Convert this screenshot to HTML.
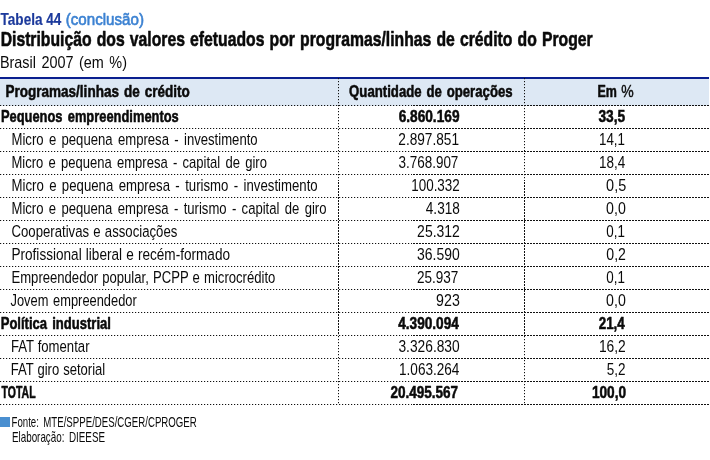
<!DOCTYPE html>
<html lang="pt-BR"><head><meta charset="utf-8"><title>Tabela 44</title>
<style>
html,body{margin:0;padding:0;background:#fff;}
svg{display:block;font-family:"Liberation Sans",sans-serif;}
text{white-space:pre;}
</style></head><body>
<svg width="710" height="460" viewBox="0 0 710 460">
<defs>
<pattern id="dh" x="0" y="0" width="3" height="1" patternUnits="userSpaceOnUse"><rect x="0" y="0" width="1.2" height="1" fill="#111"/></pattern>
<pattern id="dh2" x="2" y="0" width="3" height="1" patternUnits="userSpaceOnUse"><rect x="0" y="0" width="2" height="1" fill="#111"/></pattern>
<pattern id="dv" x="0" y="0" width="1" height="3" patternUnits="userSpaceOnUse"><rect x="0" y="0" width="1" height="1.2" fill="#111"/></pattern>
<pattern id="dv2" x="0" y="2" width="1" height="3" patternUnits="userSpaceOnUse"><rect x="0" y="0" width="1" height="2" fill="#111"/></pattern>
</defs>
<rect width="710" height="460" fill="#fff"/>
<rect x="0" y="79" width="709" height="27" fill="#dde8f4"/>
<rect x="0" y="77" width="709" height="2" fill="#0a1f8f"/>
<rect x="0" y="105" width="411" height="1" fill="url(#dh)"/>
<rect x="411" y="105" width="298" height="1" fill="url(#dh2)"/>
<rect x="0" y="128" width="411" height="1" fill="url(#dh)"/>
<rect x="411" y="128" width="298" height="1" fill="url(#dh2)"/>
<rect x="0" y="151" width="411" height="1" fill="url(#dh)"/>
<rect x="411" y="151" width="298" height="1" fill="url(#dh2)"/>
<rect x="0" y="174" width="411" height="1" fill="url(#dh)"/>
<rect x="411" y="174" width="298" height="1" fill="url(#dh2)"/>
<rect x="0" y="197" width="411" height="1" fill="url(#dh)"/>
<rect x="411" y="197" width="298" height="1" fill="url(#dh2)"/>
<rect x="0" y="220" width="411" height="1" fill="url(#dh)"/>
<rect x="411" y="220" width="298" height="1" fill="url(#dh2)"/>
<rect x="0" y="243" width="411" height="1" fill="url(#dh)"/>
<rect x="411" y="243" width="298" height="1" fill="url(#dh2)"/>
<rect x="0" y="266" width="411" height="1" fill="url(#dh)"/>
<rect x="411" y="266" width="298" height="1" fill="url(#dh2)"/>
<rect x="0" y="289" width="411" height="1" fill="url(#dh)"/>
<rect x="411" y="289" width="298" height="1" fill="url(#dh2)"/>
<rect x="0" y="312" width="411" height="1" fill="url(#dh)"/>
<rect x="411" y="312" width="298" height="1" fill="url(#dh2)"/>
<rect x="0" y="335" width="411" height="1" fill="url(#dh)"/>
<rect x="411" y="335" width="298" height="1" fill="url(#dh2)"/>
<rect x="0" y="358" width="411" height="1" fill="url(#dh)"/>
<rect x="411" y="358" width="298" height="1" fill="url(#dh2)"/>
<rect x="0" y="381" width="411" height="1" fill="url(#dh)"/>
<rect x="411" y="381" width="298" height="1" fill="url(#dh2)"/>
<rect x="0" y="404" width="411" height="1" fill="url(#dh)"/>
<rect x="411" y="404" width="298" height="1" fill="url(#dh2)"/>
<rect x="338" y="78" width="1" height="103" fill="url(#dv)"/>
<rect x="338" y="181" width="1" height="153" fill="url(#dv2)"/>
<rect x="338" y="334" width="1" height="71" fill="url(#dv)"/>
<rect x="524" y="78" width="1" height="103" fill="url(#dv)"/>
<rect x="524" y="181" width="1" height="153" fill="url(#dv2)"/>
<rect x="524" y="334" width="1" height="71" fill="url(#dv)"/>
<rect x="0" y="417" width="10" height="10" fill="#4a8fd0"/>
<g>
<text id="t1a" transform="translate(0.56 24.60) scale(0.8217 1)" font-size="16.5" font-weight="700" fill="#1c3a9c" stroke="#1c3a9c" stroke-width="0.15" vector-effect="non-scaling-stroke" stroke-linejoin="round">Tabela 44</text>
<text id="t1b" transform="translate(65.71 24.60) scale(0.9180 1)" font-size="16.5" font-weight="400" fill="#3c82d2" stroke="#3c82d2" stroke-width="0.6" vector-effect="non-scaling-stroke" stroke-linejoin="round">(conclusão)</text>
<text id="t2" transform="translate(0.65 46.30) scale(0.7873 1)" font-size="20" font-weight="700" fill="#0a0a0a" stroke="#0a0a0a" stroke-width="0.5" vector-effect="non-scaling-stroke" stroke-linejoin="round" word-spacing="1">Distribuição dos valores efetuados por programas/linhas de crédito do Proger</text>
<text id="t3" transform="translate(-0.11 68.30) scale(0.8479 1)" font-size="17" font-weight="400" fill="#0a0a0a" word-spacing="1.8">Brasil 2007 (em %)</text>
<text id="h1" transform="translate(5.44 97.40) scale(0.7958 1)" font-size="17" font-weight="700" fill="#0a0a0a" stroke="#0a0a0a" stroke-width="0.5" vector-effect="non-scaling-stroke" stroke-linejoin="round" word-spacing="1.5">Programas/linhas de crédito</text>
<text id="h2" transform="translate(349.10 97.40) scale(0.7762 1)" font-size="17" font-weight="700" fill="#0a0a0a" stroke="#0a0a0a" stroke-width="0.5" vector-effect="non-scaling-stroke" stroke-linejoin="round" word-spacing="1.5">Quantidade de operações</text>
<text id="h3a" transform="translate(597.51 97.40) scale(0.7337 1)" font-size="17" font-weight="700" fill="#0a0a0a" stroke="#0a0a0a" stroke-width="0.5" vector-effect="non-scaling-stroke" stroke-linejoin="round">Em</text>
<text id="h3b" transform="translate(621.37 97.40) scale(0.8239 1)" font-size="17" font-weight="400" fill="#0a0a0a" stroke="#0a0a0a" stroke-width="0.4" vector-effect="non-scaling-stroke" stroke-linejoin="round">%</text>
<text id="r0a" transform="translate(0.89 122.40) scale(0.7589 1)" font-size="17" font-weight="700" fill="#0a0a0a" stroke="#0a0a0a" stroke-width="0.5" vector-effect="non-scaling-stroke" stroke-linejoin="round" word-spacing="2.2">Pequenos empreendimentos</text>
<text id="r0b" transform="translate(398.64 122.40) scale(0.8054 1)" font-size="17" font-weight="700" fill="#0a0a0a" stroke="#0a0a0a" stroke-width="0.5" vector-effect="non-scaling-stroke" stroke-linejoin="round">6.860.169</text>
<text id="r0c" transform="translate(598.40 122.40) scale(0.8081 1)" font-size="17" font-weight="700" fill="#0a0a0a" stroke="#0a0a0a" stroke-width="0.5" vector-effect="non-scaling-stroke" stroke-linejoin="round">33,5</text>
<text id="r1a" transform="translate(11.49 145.40) scale(0.7722 1)" font-size="17" font-weight="400" fill="#0a0a0a" word-spacing="2.2">Micro e pequena empresa - investimento</text>
<text id="r1b" transform="translate(398.30 145.40) scale(0.8037 1)" font-size="17" font-weight="400" fill="#0a0a0a">2.897.851</text>
<text id="r1c" transform="translate(598.96 145.40) scale(0.7874 1)" font-size="17" font-weight="400" fill="#0a0a0a">14,1</text>
<text id="r2a" transform="translate(11.49 168.40) scale(0.7659 1)" font-size="17" font-weight="400" fill="#0a0a0a" word-spacing="2.2">Micro e pequena empresa - capital de giro</text>
<text id="r2b" transform="translate(398.41 168.40) scale(0.7938 1)" font-size="17" font-weight="400" fill="#0a0a0a">3.768.907</text>
<text id="r2c" transform="translate(598.98 168.40) scale(0.7939 1)" font-size="17" font-weight="400" fill="#0a0a0a">18,4</text>
<text id="r3a" transform="translate(11.48 191.40) scale(0.7768 1)" font-size="17" font-weight="400" fill="#0a0a0a" word-spacing="2.2">Micro e pequena empresa - turismo - investimento</text>
<text id="r3b" transform="translate(411.26 191.40) scale(0.7900 1)" font-size="17" font-weight="400" fill="#0a0a0a">100.332</text>
<text id="r3c" transform="translate(606.09 191.40) scale(0.8509 1)" font-size="17" font-weight="400" fill="#0a0a0a">0,5</text>
<text id="r4a" transform="translate(11.49 214.40) scale(0.7711 1)" font-size="17" font-weight="400" fill="#0a0a0a" word-spacing="2.2">Micro e pequena empresa - turismo - capital de giro</text>
<text id="r4b" transform="translate(425.80 214.40) scale(0.8011 1)" font-size="17" font-weight="400" fill="#0a0a0a">4.318</text>
<text id="r4c" transform="translate(606.10 214.40) scale(0.8343 1)" font-size="17" font-weight="400" fill="#0a0a0a">0,0</text>
<text id="r5a" transform="translate(11.48 237.40) scale(0.7755 1)" font-size="17" font-weight="400" fill="#0a0a0a" word-spacing="0.7">Cooperativas e associações</text>
<text id="r5b" transform="translate(417.12 237.40) scale(0.8232 1)" font-size="17" font-weight="400" fill="#0a0a0a">25.312</text>
<text id="r5c" transform="translate(606.26 237.40) scale(0.7886 1)" font-size="17" font-weight="400" fill="#0a0a0a">0,1</text>
<text id="r6a" transform="translate(11.47 260.40) scale(0.7996 1)" font-size="17" font-weight="400" fill="#0a0a0a" word-spacing="0.5">Profissional liberal e recém-formado</text>
<text id="r6b" transform="translate(416.98 260.40) scale(0.8218 1)" font-size="17" font-weight="400" fill="#0a0a0a">36.590</text>
<text id="r6c" transform="translate(606.30 260.40) scale(0.8299 1)" font-size="17" font-weight="400" fill="#0a0a0a">0,2</text>
<text id="r7a" transform="translate(11.49 283.40) scale(0.7710 1)" font-size="17" font-weight="400" fill="#0a0a0a" word-spacing="0.7">Empreendedor popular, PCPP e microcrédito</text>
<text id="r7b" transform="translate(416.99 283.40) scale(0.7970 1)" font-size="17" font-weight="400" fill="#0a0a0a">25.937</text>
<text id="r7c" transform="translate(606.26 283.40) scale(0.7886 1)" font-size="17" font-weight="400" fill="#0a0a0a">0,1</text>
<text id="r8a" transform="translate(10.52 306.40) scale(0.7571 1)" font-size="17" font-weight="400" fill="#0a0a0a" word-spacing="1.5">Jovem empreendedor</text>
<text id="r8b" transform="translate(436.10 306.40) scale(0.8354 1)" font-size="17" font-weight="400" fill="#0a0a0a">923</text>
<text id="r8c" transform="translate(606.10 306.40) scale(0.8343 1)" font-size="17" font-weight="400" fill="#0a0a0a">0,0</text>
<text id="r9a" transform="translate(0.70 329.40) scale(0.7677 1)" font-size="17" font-weight="700" fill="#0a0a0a" stroke="#0a0a0a" stroke-width="0.5" vector-effect="non-scaling-stroke" stroke-linejoin="round" word-spacing="2.0">Política industrial</text>
<text id="r9b" transform="translate(398.19 329.40) scale(0.8028 1)" font-size="17" font-weight="700" fill="#0a0a0a" stroke="#0a0a0a" stroke-width="0.5" vector-effect="non-scaling-stroke" stroke-linejoin="round">4.390.094</text>
<text id="r9c" transform="translate(598.71 329.40) scale(0.7881 1)" font-size="17" font-weight="700" fill="#0a0a0a" stroke="#0a0a0a" stroke-width="0.5" vector-effect="non-scaling-stroke" stroke-linejoin="round">21,4</text>
<text id="r10a" transform="translate(10.90 352.40) scale(0.7734 1)" font-size="17" font-weight="400" fill="#0a0a0a" word-spacing="0.3">FAT fomentar</text>
<text id="r10b" transform="translate(398.39 352.40) scale(0.8113 1)" font-size="17" font-weight="400" fill="#0a0a0a">3.326.830</text>
<text id="r10c" transform="translate(598.92 352.40) scale(0.8131 1)" font-size="17" font-weight="400" fill="#0a0a0a">16,2</text>
<text id="r11a" transform="translate(10.72 375.40) scale(0.7682 1)" font-size="17" font-weight="400" fill="#0a0a0a" word-spacing="0.5">FAT giro setorial</text>
<text id="r11b" transform="translate(399.03 375.40) scale(0.7989 1)" font-size="17" font-weight="400" fill="#0a0a0a">1.063.264</text>
<text id="r11c" transform="translate(606.66 375.40) scale(0.7949 1)" font-size="17" font-weight="400" fill="#0a0a0a">5,2</text>
<text id="r12a" transform="translate(1.58 398.40) scale(0.6170 1)" font-size="17" font-weight="700" fill="#0a0a0a" stroke="#0a0a0a" stroke-width="0.5" vector-effect="non-scaling-stroke" stroke-linejoin="round">TOTAL</text>
<text id="r12b" transform="translate(390.38 398.40) scale(0.7970 1)" font-size="17" font-weight="700" fill="#0a0a0a" stroke="#0a0a0a" stroke-width="0.5" vector-effect="non-scaling-stroke" stroke-linejoin="round">20.495.567</text>
<text id="r12c" transform="translate(591.90 398.40) scale(0.8029 1)" font-size="17" font-weight="700" fill="#0a0a0a" stroke="#0a0a0a" stroke-width="0.5" vector-effect="non-scaling-stroke" stroke-linejoin="round">100,0</text>
<text id="f1" transform="translate(11.49 427.10) scale(0.6909 1)" font-size="14" font-weight="400" fill="#0a0a0a" word-spacing="2.5">Fonte: MTE/SPPE/DES/CGER/CPROGER</text>
<text id="f2" transform="translate(11.94 442.00) scale(0.7036 1)" font-size="14" font-weight="400" fill="#0a0a0a" word-spacing="2.5">Elaboração: DIEESE</text>
</g>
</svg>
</body></html>
